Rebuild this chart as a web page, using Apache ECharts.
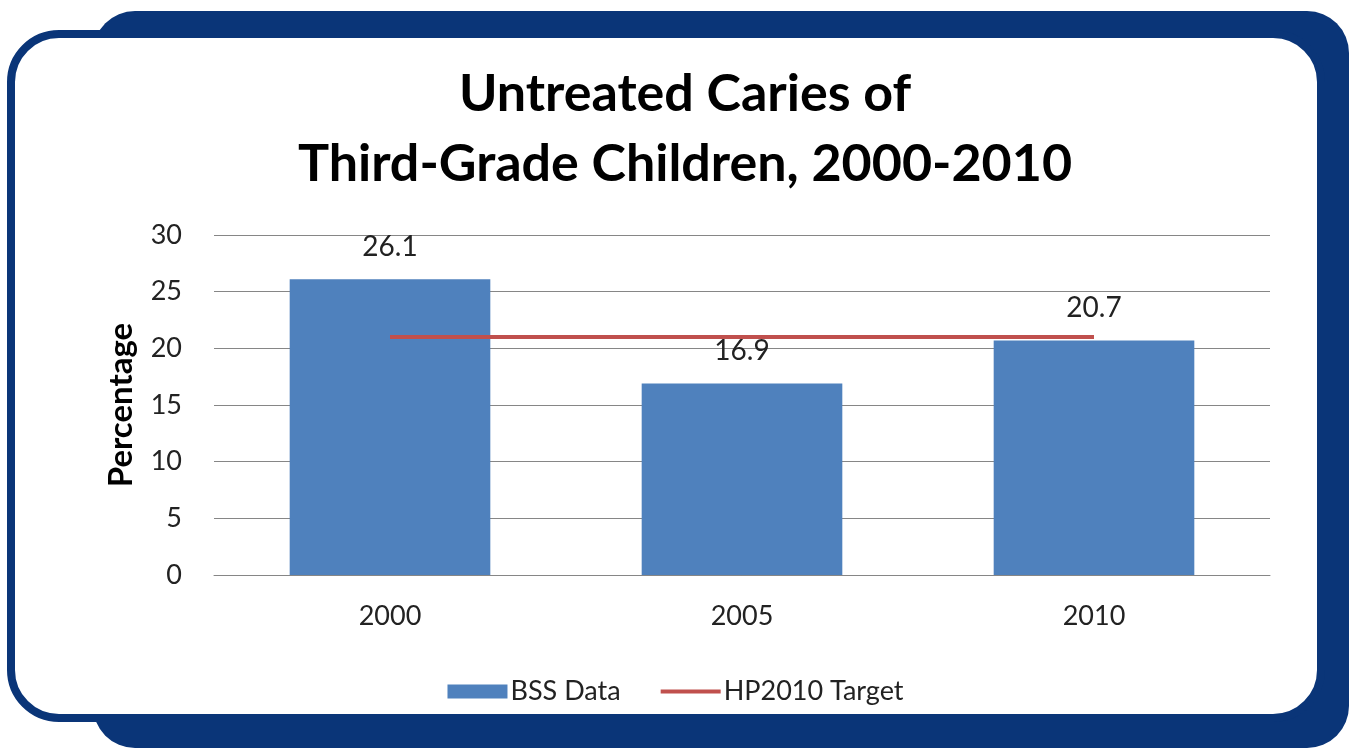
<!DOCTYPE html>
<html>
<head>
<meta charset="utf-8">
<script src="https://cdn.jsdelivr.net/npm/echarts@6/dist/echarts.min.js"></script>
<style>
html,body{margin:0;padding:0;background:#fff;}
#chart{width:1351px;height:749px;}
</style>
</head>
<body>
<div id="chart"></div>
<script>
const categories = ['2000', '2005', '2010'];
const bssData = [26.1, 16.9, 20.7];
const hpTarget = [21, 21, 21];
const yTicks = { min: 0, max: 30, interval: 5 };
const titleLines = ['Untreated Caries of', 'Third-Grade Children, 2000-2010'];
const FONT = 'Lato';

const chart = echarts.init(document.getElementById('chart'), null, { renderer: 'canvas' });
chart.setOption({
  animation: false,
  textStyle: { fontFamily: FONT },
  graphic: [
    { type: 'rect', z: -10, shape: { x: 93, y: 11, width: 1256, height: 737, r: 42 }, style: { fill: '#0A3578' } },
    { type: 'rect', z: -9, shape: { x: 11, y: 34, width: 1310, height: 684, r: 48 }, style: { fill: '#ffffff', stroke: '#0A3578', lineWidth: 8 } }
  ],
  title: {
    text: titleLines.join('\n'),
    left: 680,
    textAlign: 'center',
    top: 54,
    textStyle: { fontFamily: FONT, fontSize: 52, fontWeight: 'bold', color: '#000', lineHeight: 70 }
  },
  legend: {
    top: 673,
    left: 'center',
    itemWidth: 60,
    itemHeight: 14,
    itemGap: 40,
    textStyle: { fontSize: 27, color: '#222', fontFamily: FONT, padding: [0, 0, 0, -2] },
    data: [
      { name: 'BSS Data', icon: 'rect' },
      { name: 'HP2010 Target', icon: 'path://M0,0h60v4h-60z' }
    ]
  },
  grid: { left: 214, right: 81, top: 235, bottom: 174 },
  xAxis: {
    type: 'category',
    data: categories,
    axisLine: { lineStyle: { color: '#868686', width: 1 } },
    axisTick: { show: false },
    axisLabel: { fontSize: 27, color: '#222', margin: 28, fontFamily: FONT }
  },
  yAxis: {
    type: 'value',
    min: yTicks.min,
    max: yTicks.max,
    interval: yTicks.interval,
    name: 'Percentage',
    nameLocation: 'middle',
    nameGap: 76,
    nameTextStyle: { fontSize: 33, fontWeight: 'bold', color: '#000', fontFamily: FONT },
    axisLine: { show: false },
    axisTick: { show: false },
    axisLabel: { fontSize: 27, color: '#222', margin: 32, fontFamily: FONT },
    splitLine: { lineStyle: { color: '#868686', width: 1 } }
  },
  series: [
    {
      name: 'BSS Data',
      type: 'bar',
      data: bssData,
      barWidth: '57%',
      itemStyle: { color: '#4F81BD' },
      label: { show: true, position: 'top', distance: 18, fontSize: 28, color: '#222', fontFamily: FONT }
    },
    {
      name: 'HP2010 Target',
      type: 'line',
      data: hpTarget,
      symbol: 'none',
      lineStyle: { color: '#C0504D', width: 4 },
      itemStyle: { color: '#C0504D' }
    }
  ]
});
</script>
</body>
</html>
